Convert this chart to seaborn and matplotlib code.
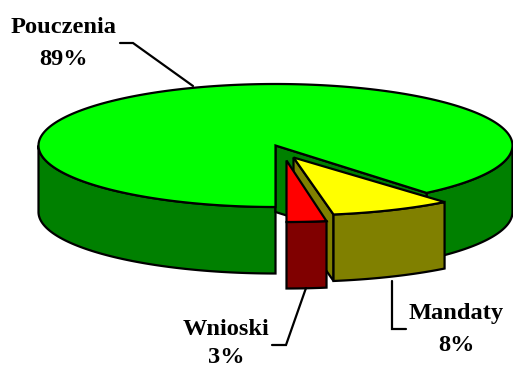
import numpy as np
import seaborn as sns
import matplotlib
matplotlib.use("Agg")
import matplotlib.pyplot as plt

# --- data ---
categories = ["Pouczenia", "Mandaty", "Wnioski"]
shares = [89.0, 8.3, 2.7]
top_colors = ["#00FF00", "#FFFF00", "#FF0000"]
side_colors = ["#008000", "#808000", "#800000"]

sns.set_theme(style="white")
plt.rcParams["font.family"] = ["Liberation Serif", "DejaVu Serif"]

W, H = 513, 367
fig = plt.figure(figsize=(W / 100, H / 100), dpi=100)
ax = fig.add_axes([0, 0, 1, 1])
ax.set_xlim(0, W)
ax.set_ylim(H, 0)
ax.axis("off")

# pie geometry (pixel units of this axes)
CX, CY, RX, RY, DEPTH = 275.5, 145.5, 237, 61.5, 66.5
offsets = {"Pouczenia": (0, 0), "Mandaty": (18, 12), "Wnioski": (11, 15)}
ry_scale = {"Pouczenia": 1.0, "Mandaty": 0.94, "Wnioski": 1.0}
LW = 1.6
EDGE = dict(edgecolor="black", linewidth=LW, joinstyle="miter")

# angles: slices run from the 6 o'clock point, Wnioski, Mandaty, then Pouczenia
a_w0 = -90.0
a_w1 = a_w0 + shares[2] * 3.6
a_m1 = a_w1 + shares[1] * 3.6
a_p1 = a_m1 + shares[0] * 3.6


def arc(name, a0, a1, dz=0.0):
    dx, dy = offsets[name]
    t = np.radians(np.linspace(a0, a1, max(int(abs(a1 - a0) * 2), 2)))
    return np.column_stack([CX + dx + RX * np.cos(t),
                            CY + dy - RY * ry_scale[name] * np.sin(t) + dz])


def apex(name, dz=0.0):
    dx, dy = offsets[name]
    return np.array([[CX + dx, CY + dy + dz]])


def side(name, a0, a1, color, z):
    pts = np.vstack([arc(name, a0, a1), arc(name, a1, a0, DEPTH)])
    ax.fill(pts[:, 0], pts[:, 1], facecolor=color, zorder=z, **EDGE)


def cut(name, a, color, z):
    e = arc(name, a, a + 0.001)[:1]
    pts = np.vstack([apex(name), e, e + [0, DEPTH], apex(name, DEPTH)])
    ax.fill(pts[:, 0], pts[:, 1], facecolor=color, zorder=z, **EDGE)


def top(name, a0, a1, color, z):
    pts = np.vstack([apex(name), arc(name, a0, a1)])
    ax.fill(pts[:, 0], pts[:, 1], facecolor=color, zorder=z, **EDGE)


# Pouczenia
side("Pouczenia", a_m1, 0, side_colors[0], 1)
side("Pouczenia", 180, 270, side_colors[0], 1)
cut("Pouczenia", a_m1, side_colors[0], 1)
top("Pouczenia", a_m1, a_p1, top_colors[0], 2)
# Mandaty
cut("Mandaty", a_w1, side_colors[1], 3)
side("Mandaty", a_w1, a_m1, side_colors[1], 3)
top("Mandaty", a_w1, a_m1, top_colors[1], 4)
# Wnioski
side("Wnioski", a_w0, a_w1, side_colors[2], 5)
top("Wnioski", a_w0, a_w1, top_colors[2], 6)

# leader lines
LEAD = dict(color="black", linewidth=LW, solid_joinstyle="miter", zorder=7)
ax.plot([120, 133, 193], [43, 43, 86], **LEAD)
ax.plot([392, 392, 406], [281, 329, 329], **LEAD)
ax.plot([306, 286, 272], [288, 345, 345], **LEAD)

# labels
FS = 17.6
label_pos = {"Pouczenia": (63.5, 33, 65), "Mandaty": (456, 319, 351), "Wnioski": (226, 335, 363)}
for name, share in zip(categories, shares):
    x, y1, y2 = label_pos[name]
    for s, y in ((name, y1), (f"{round(share)}%", y2)):
        ax.text(x, y, s, ha="center", va="baseline", fontsize=FS,
                fontweight="bold", color="black", zorder=8)

fig.savefig("out.png", dpi=100, facecolor="white")
